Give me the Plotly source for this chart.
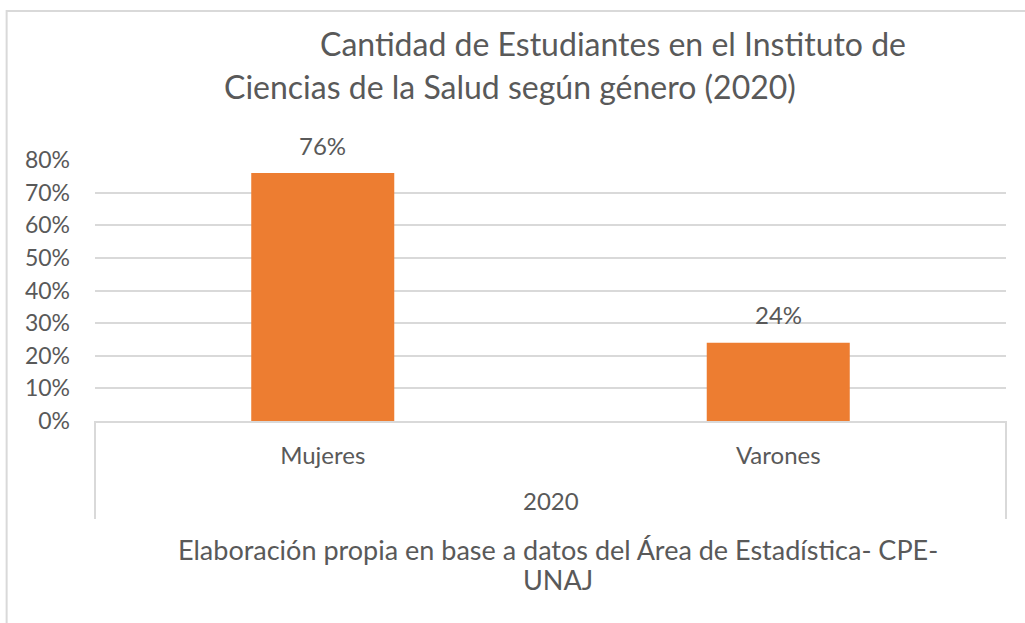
import plotly.graph_objects as go

# datos
anio = "2020"
genero = ["Mujeres", "Varones"]
porcentaje = [0.76, 0.24]

titulo_1 = "Cantidad de Estudiantes en el Instituto de"
titulo_2 = "Ciencias de la Salud según género (2020)"
fuente_1 = "Elaboración propia en base a datos del Área de Estadística- CPE-"
fuente_2 = "UNAJ"

gris = "#595959"
linea = "#d9d9d9"
fuente = "Lato, Open Sans, sans-serif"
alto_plot = 623 - 160 - 202  # px del area de trazado

fig = go.Figure()
fig.add_trace(go.Bar(
    x=genero,
    y=porcentaje,
    marker=dict(color="#ED7D31", line=dict(width=0)),
    width=0.314,
))

# etiquetas de datos sobre cada barra
for g, v in zip(genero, porcentaje):
    fig.add_annotation(x=g, y=v, text=f"{v:.0%}", showarrow=False,
                       yshift=28, yanchor="middle",
                       font=dict(size=24, color=gris, family=fuente))

fig.update_layout(
    width=1025, height=623,
    margin=dict(l=95, r=19, t=160, b=202),
    paper_bgcolor="white", plot_bgcolor="white",
    showlegend=False,
    font=dict(family=fuente, color=gris, size=24),
    xaxis=dict(
        type="category",
        showgrid=False,
        showline=True, linecolor=linea, linewidth=2,
        tickfont=dict(size=24, color=gris),
        ticks="",
        ticklabelstandoff=12,
    ),
    yaxis=dict(
        range=[0, 0.8],
        tickvals=[0, 0.1, 0.2, 0.3, 0.4, 0.5, 0.6, 0.7, 0.8],
        tickformat=".0%",
        showgrid=True, gridcolor=linea, gridwidth=2,
        zeroline=False, showline=False,
        tickfont=dict(size=23, color=gris),
        ticklabelstandoff=24,
    ),
)

# segundo nivel del eje (año) y divisores
fig.add_annotation(text=anio, xref="paper", yref="paper", x=0.5, y=0.0,
                   yshift=-79, showarrow=False, xanchor="center", yanchor="middle",
                   font=dict(size=24, color=gris, family=fuente))
for xd in [0, 1]:
    fig.add_shape(type="line", xref="paper", yref="paper",
                  x0=xd, x1=xd, y0=0, y1=-98 / alto_plot,
                  line=dict(color=linea, width=2))

# titulo (dos renglones, como en Excel)
fig.add_annotation(text=titulo_1, xref="paper", yref="paper", x=0.569, y=1.0,
                   yshift=117, showarrow=False, xanchor="center", yanchor="middle",
                   font=dict(size=32, color=gris, family=fuente))
fig.add_annotation(text=titulo_2, xref="paper", yref="paper", x=0.456, y=1.0,
                   yshift=74, showarrow=False, xanchor="center", yanchor="middle",
                   font=dict(size=32, color=gris, family=fuente))

# nota de fuente
fig.add_annotation(text=fuente_1, xref="paper", yref="paper", x=0.508, y=0.0,
                   yshift=-128, showarrow=False, xanchor="center", yanchor="middle",
                   font=dict(size=27, color=gris, family=fuente))
fig.add_annotation(text=fuente_2, xref="paper", yref="paper", x=0.508, y=0.0,
                   yshift=-158, showarrow=False, xanchor="center", yanchor="middle",
                   font=dict(size=27, color=gris, family=fuente))

# borde del grafico
fig.add_shape(type="rect", xref="paper", yref="paper",
              x0=-0.097, x1=1.1, y0=-1.0, y1=1.571,
              line=dict(color=linea, width=2), layer="below")

fig.write_html("out.html", config={"displayModeBar": False},
               post_script="document.body.style.margin='0px';")
